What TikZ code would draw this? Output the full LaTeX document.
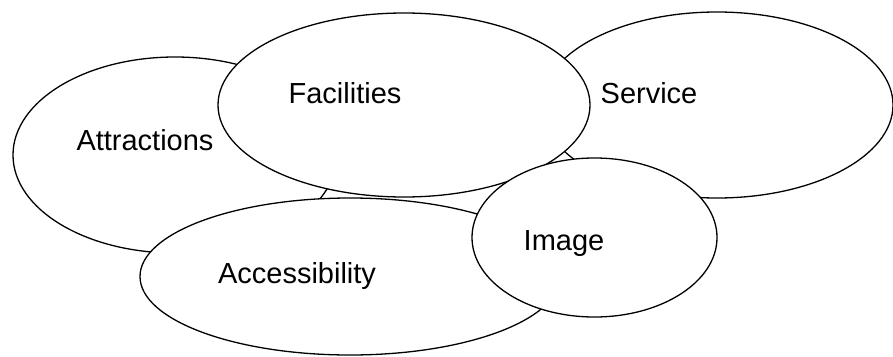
\documentclass[tikz,border=0pt]{standalone}
\usepackage{fontspec}
\setmainfont{Liberation Sans}
\usetikzlibrary{shapes.geometric}
\begin{document}
\begin{tikzpicture}[x=1pt,y=-1pt,
  blob/.style={ellipse,draw=black,fill=white,line width=1.3pt,inner sep=0pt,outer sep=0pt},
  word/.style={anchor=base,inner sep=0pt,font=\fontsize{29}{32}\selectfont}]
  \useasboundingbox (0,0) rectangle (893,356);
  % overlapping ellipses, back to front
  \node[blob,minimum width=324pt,minimum height=196pt] (attr) at (175,155) {};
  \node[blob,minimum width=352pt,minimum height=186pt] (serv) at (717,105) {};
  \node[blob,minimum width=420pt,minimum height=157pt] (acc)  at (350,276.5) {};
  \node[blob,minimum width=372pt,minimum height=184pt] (fac)  at (404,105) {};
  \node[blob,minimum width=245pt,minimum height=159pt] (img)  at (594.5,237.5) {};
  % labels
  \node[word] (tattr) at (145,150) {Attractions};
  \node[word] (tfac)  at (345,103) {Facilities};
  \node[word] (tserv) at (649,103) {Service};
  \node[word] (tacc)  at (297,283) {Accessibility};
  \node[word] (timg)  at (564,250) {Image};
\end{tikzpicture}
\end{document}
